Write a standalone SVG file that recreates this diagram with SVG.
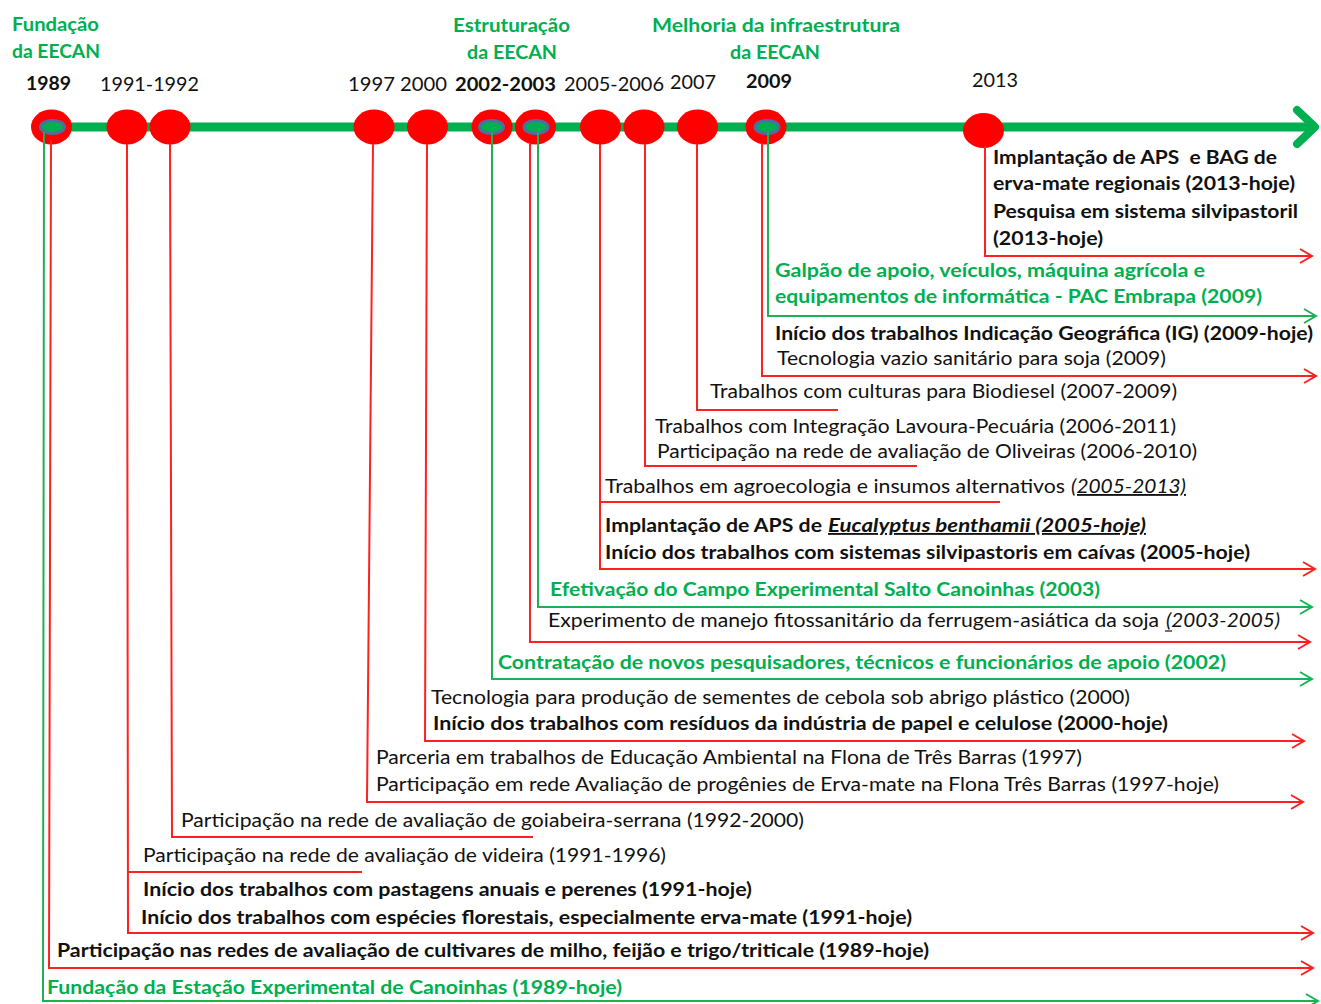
<svg xmlns="http://www.w3.org/2000/svg" width="1321" height="1004" viewBox="0 0 1321 1004">
<style>
text{font-family:Lato,"Liberation Sans",sans-serif;font-size:18.5px}
.t{fill:#111}
.b{fill:#111;font-weight:bold}
.g{fill:#00B050;font-weight:bold}
.i{font-style:italic}
.u{text-decoration:underline}
.dot{fill:#FF0000}
.core{fill:#00B050;stroke:#4F6DA0;stroke-width:3}
.r{fill:none;stroke:#FF2020;stroke-width:2}
.gl{fill:none;stroke:#1DB055;stroke-width:2}
.ra{marker-end:url(#arR)}
.ga{marker-end:url(#arG)}
</style>
<defs>
<marker id="arR" markerWidth="16" markerHeight="18" refX="13" refY="8" orient="auto" markerUnits="userSpaceOnUse"><path d="M1,1 L13,8 L1,15" fill="none" stroke="#FF2020" stroke-width="2"/></marker>
<marker id="arG" markerWidth="16" markerHeight="18" refX="13" refY="8" orient="auto" markerUnits="userSpaceOnUse"><path d="M1,1 L13,8 L1,15" fill="none" stroke="#1DB055" stroke-width="2"/></marker>
</defs>
<rect width="1321" height="1004" fill="#fff"/>

<g id="axis">
<line x1="40" y1="127" x2="1312" y2="127" stroke="#00B050" stroke-width="9"/>
<path d="M1297,110 L1315,127 L1297,144" fill="none" stroke="#00B050" stroke-width="8" stroke-linecap="round" stroke-linejoin="round"/>
</g>

<g id="headings">
<text class="g" x="12" y="31" textLength="87" lengthAdjust="spacingAndGlyphs">Fundação</text>
<text class="g" x="12" y="58" textLength="88" lengthAdjust="spacingAndGlyphs">da EECAN</text>
<text class="g" x="453" y="32" textLength="117" lengthAdjust="spacingAndGlyphs">Estruturação</text>
<text class="g" x="467" y="59" textLength="90" lengthAdjust="spacingAndGlyphs">da EECAN</text>
<text class="g" x="652" y="32" textLength="248" lengthAdjust="spacingAndGlyphs">Melhoria da infraestrutura</text>
<text class="g" x="730" y="59" textLength="90" lengthAdjust="spacingAndGlyphs">da EECAN</text>
</g>

<g id="n1989">
<ellipse class="dot" cx="51.5" cy="127" rx="20.5" ry="17.5"/>
<ellipse class="core" cx="52.5" cy="127" rx="12" ry="6.5"/>
<text class="b" x="26" y="90" textLength="45" lengthAdjust="spacingAndGlyphs">1989</text>
</g>
<g id="n1991">
<ellipse class="dot" cx="127" cy="127" rx="20.5" ry="17.5"/>
<ellipse class="dot" cx="170" cy="127" rx="20.5" ry="17.5"/>
<text class="t" x="100" y="91" textLength="99" lengthAdjust="spacingAndGlyphs">1991-1992</text>
</g>
<g id="n1997">
<ellipse class="dot" cx="374" cy="127" rx="20.5" ry="17.5"/>
<ellipse class="dot" cx="427.5" cy="127" rx="20.5" ry="17.5"/>
<text class="t" x="348" y="91" textLength="99" lengthAdjust="spacingAndGlyphs">1997 2000</text>
</g>
<g id="n2002">
<ellipse class="dot" cx="492" cy="127" rx="20.5" ry="17.5"/>
<ellipse class="core" cx="491.5" cy="127" rx="12" ry="6.5"/>
<ellipse class="dot" cx="535.5" cy="127" rx="20.5" ry="17.5"/>
<ellipse class="core" cx="536" cy="127" rx="12" ry="6.5"/>
<text class="b" x="455" y="91" textLength="101" lengthAdjust="spacingAndGlyphs">2002-2003</text>
</g>
<g id="n2005">
<ellipse class="dot" cx="600.5" cy="127" rx="20.5" ry="17.5"/>
<ellipse class="dot" cx="644" cy="127" rx="20.5" ry="17.5"/>
<text class="t" x="564" y="91" textLength="100" lengthAdjust="spacingAndGlyphs">2005-2006</text>
</g>
<g id="n2007">
<ellipse class="dot" cx="697.5" cy="127" rx="20.5" ry="17.5"/>
<text class="t" x="670" y="89" textLength="46" lengthAdjust="spacingAndGlyphs">2007</text>
</g>
<g id="n2009">
<ellipse class="dot" cx="766" cy="127" rx="20.5" ry="17.5"/>
<ellipse class="core" cx="767" cy="127" rx="12" ry="6.5"/>
<text class="b" x="746" y="88" textLength="46" lengthAdjust="spacingAndGlyphs">2009</text>
</g>
<g id="n2013">
<ellipse class="dot" cx="983.5" cy="130.5" rx="20.5" ry="17.5"/>
<text class="t" x="972" y="87" textLength="46" lengthAdjust="spacingAndGlyphs">2013</text>
</g>

<g id="connectors">
<path class="r ra" d="M985,146 L985,256 L1312,256"/>
<path class="gl ga" d="M768,132 L768,316 L1316,316"/>
<path class="r ra" d="M762,143 L762,376 L1316,376"/>
<path class="r" d="M697,144 L697,410 L838,410"/>
<path class="r" d="M645,144 L645,466 L917,466"/>
<path class="r" d="M600,502 L1000,502"/>
<path class="r ra" d="M600,144 L600,569 L1315,569"/>
<path class="gl ga" d="M538,132 L538,607 L1312,607"/>
<path class="r ra" d="M530,143 L530,642 L1310,642"/>
<path class="gl ga" d="M492,132 L492,679 L1312,679"/>
<path class="r ra" d="M427,144 L425,741 L1304,741"/>
<path class="r ra" d="M373,144 L367,802 L1303,802"/>
<path class="r" d="M170,144 L172,837 L533,837"/>
<path class="r" d="M128,872 L362,872"/>
<path class="r ra" d="M127,144 L128,933 L1313,933"/>
<path class="r ra" d="M51,140 L49,968 L1313,968"/>
<path class="gl ga" d="M44,132 L43,1001 L1318,1001"/>
</g>

<g id="e2013">
<text class="b" x="993" y="164" textLength="284" lengthAdjust="spacingAndGlyphs" xml:space="preserve">Implantação de APS  e BAG de</text>
<text class="b" x="993" y="190" textLength="302" lengthAdjust="spacingAndGlyphs">erva-mate regionais (2013-hoje)</text>
<text class="b" x="993" y="218" textLength="305" lengthAdjust="spacingAndGlyphs">Pesquisa em sistema silvipastoril</text>
<text class="b" x="993" y="245" textLength="110" lengthAdjust="spacingAndGlyphs">(2013-hoje)</text>
</g>
<g id="e2009g">
<text class="g" x="775" y="277" textLength="430" lengthAdjust="spacingAndGlyphs">Galpão de apoio, veículos, máquina agrícola e</text>
<text class="g" x="775" y="303" textLength="487" lengthAdjust="spacingAndGlyphs">equipamentos de informática - PAC Embrapa (2009)</text>
</g>
<g id="e2009r">
<text class="b" x="775" y="340" textLength="538" lengthAdjust="spacingAndGlyphs">Início dos trabalhos Indicação Geográfica (IG) (2009-hoje)</text>
<text class="t" x="777" y="365" textLength="389" lengthAdjust="spacingAndGlyphs">Tecnologia vazio sanitário para soja (2009)</text>
</g>
<g id="e2007">
<text class="t" x="710" y="398" textLength="467" lengthAdjust="spacingAndGlyphs">Trabalhos com culturas para Biodiesel (2007-2009)</text>
</g>
<g id="e2006">
<text class="t" x="655" y="433" textLength="521" lengthAdjust="spacingAndGlyphs">Trabalhos com Integração Lavoura-Pecuária (2006-2011)</text>
<text class="t" x="657" y="458" textLength="540" lengthAdjust="spacingAndGlyphs">Participação na rede de avaliação de Oliveiras (2006-2010)</text>
</g>
<g id="e2005">
<text class="t" x="605" y="493" textLength="460" lengthAdjust="spacingAndGlyphs">Trabalhos em agroecologia e insumos alternativos</text>
<text class="t i u" x="1071" y="493" textLength="115" lengthAdjust="spacingAndGlyphs">(2005-2013)</text>
<text class="b" x="605" y="532" textLength="217" lengthAdjust="spacingAndGlyphs">Implantação de APS de</text>
<text class="b i u" x="828" y="532" textLength="318" lengthAdjust="spacingAndGlyphs">Eucalyptus benthamii (2005-hoje)</text>
<text class="b" x="605" y="559" textLength="645" lengthAdjust="spacingAndGlyphs">Início dos trabalhos com sistemas silvipastoris em caívas (2005-hoje)</text>
</g>
<g id="e2003g">
<text class="g" x="550" y="596" textLength="550" lengthAdjust="spacingAndGlyphs">Efetivação do Campo Experimental Salto Canoinhas (2003)</text>
</g>
<g id="e2003r">
<text class="t" x="548" y="627" textLength="611" lengthAdjust="spacingAndGlyphs">Experimento de manejo fitossanitário da ferrugem-asiática da soja</text>
<text class="t i" x="1166" y="627" textLength="114" lengthAdjust="spacingAndGlyphs">(2003-2005)</text>
<line x1="1165" y1="631" x2="1172" y2="631" stroke="#111" stroke-width="1.2"/>
</g>
<g id="e2002">
<text class="g" x="498" y="669" textLength="728" lengthAdjust="spacingAndGlyphs">Contratação de novos pesquisadores, técnicos e funcionários de apoio (2002)</text>
</g>
<g id="e2000">
<text class="t" x="431" y="704" textLength="699" lengthAdjust="spacingAndGlyphs">Tecnologia para produção de sementes de cebola sob abrigo plástico (2000)</text>
<text class="b" x="433" y="730" textLength="735" lengthAdjust="spacingAndGlyphs">Início dos trabalhos com resíduos da indústria de papel e celulose (2000-hoje)</text>
</g>
<g id="e1997">
<text class="t" x="376" y="764" textLength="706" lengthAdjust="spacingAndGlyphs">Parceria em trabalhos de Educação Ambiental na Flona de Três Barras (1997)</text>
<text class="t" x="376" y="791" textLength="843" lengthAdjust="spacingAndGlyphs">Participação em rede Avaliação de progênies de Erva-mate na Flona Três Barras (1997-hoje)</text>
</g>
<g id="e1992">
<text class="t" x="181" y="827" textLength="623" lengthAdjust="spacingAndGlyphs">Participação na rede de avaliação de goiabeira-serrana (1992-2000)</text>
</g>
<g id="e1991">
<text class="t" x="143" y="862" textLength="523" lengthAdjust="spacingAndGlyphs">Participação na rede de avaliação de videira (1991-1996)</text>
<text class="b" x="143" y="896" textLength="609" lengthAdjust="spacingAndGlyphs">Início dos trabalhos com pastagens anuais e perenes (1991-hoje)</text>
<text class="b" x="141" y="924" textLength="771" lengthAdjust="spacingAndGlyphs">Início dos trabalhos com espécies florestais, especialmente erva-mate (1991-hoje)</text>
</g>
<g id="e1989">
<text class="b" x="57" y="957" textLength="872" lengthAdjust="spacingAndGlyphs">Participação nas redes de avaliação de cultivares de milho, feijão e trigo/triticale (1989-hoje)</text>
<text class="g" x="47" y="994" textLength="575" lengthAdjust="spacingAndGlyphs">Fundação da Estação Experimental de Canoinhas (1989-hoje)</text>
</g>
</svg>
